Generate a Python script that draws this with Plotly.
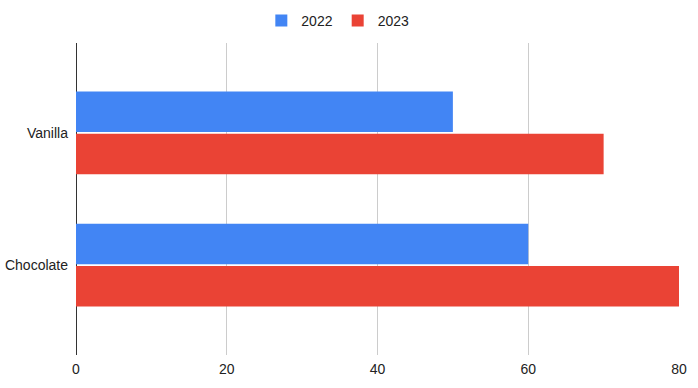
import plotly.graph_objects as go

categories = ["Vanilla", "Chocolate"]
series_names = ["2022", "2023"]
values_2022 = [50, 60]
values_2023 = [70, 80]
colors = ["#4285F4", "#EA4335"]

fig = go.Figure()
for name, vals, col in zip(series_names, [values_2022, values_2023], colors):
    fig.add_trace(go.Bar(
        y=categories, x=vals, name=name, orientation="h",
        marker=dict(color=col, line=dict(width=0)),
    ))

fig.update_layout(
    width=698, height=388,
    margin=dict(l=76, r=19, t=43, b=33, autoexpand=False),
    paper_bgcolor="white", plot_bgcolor="white",
    font=dict(family="Liberation Sans, Arial, sans-serif", size=14, color="#222222"),
    barmode="group", bargap=0.36, bargroupgap=0.04,
    legend=dict(orientation="h", x=0.484, xref="container", xanchor="center",
                y=1 - 21 / 388, yref="container", yanchor="middle",
                font=dict(size=14, color="#222222"), itemwidth=30, traceorder="normal"),
    xaxis=dict(range=[0, 80], tickvals=[0, 20, 40, 60, 80], showgrid=True,
               gridcolor="#CCCCCC", gridwidth=1, zeroline=True, zerolinecolor="#333333",
               zerolinewidth=1, showline=False, ticks="", ticklabelstandoff=4,
               automargin=False),
    yaxis=dict(range=[1.68, -0.68], showgrid=False, showline=False, ticks="",
               ticklabelstandoff=7, automargin=False),
)

fig.write_html("out.html", config={"displayModeBar": False},
               post_script="document.body.style.margin='0';")
